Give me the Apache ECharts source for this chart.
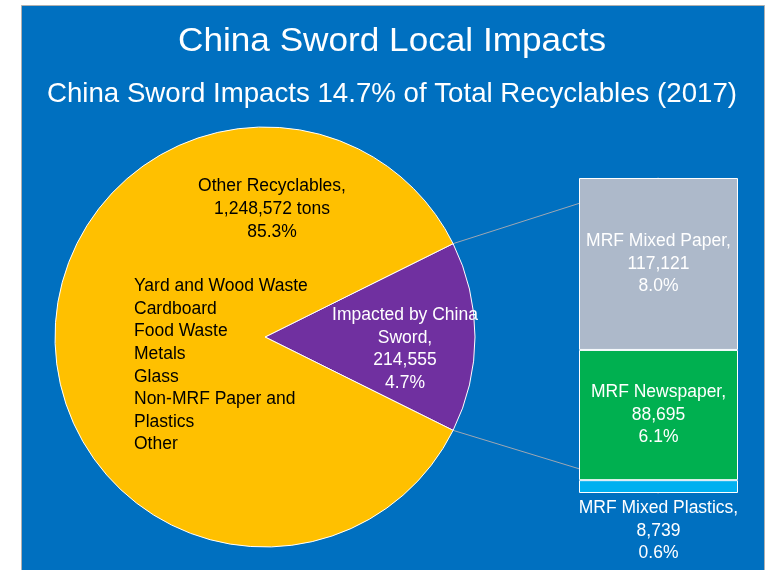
<!DOCTYPE html>
<html>
<head>
<meta charset="utf-8">
<script src="https://cdn.jsdelivr.net/npm/echarts@6/dist/echarts.min.js"></script>
<style>
  html, body { margin: 0; padding: 0; background: #fff; }
  #chart { width: 769px; height: 570px; }
</style>
</head>
<body>
<div id="chart"></div>
<script>
// pie: what part of all recyclables is hit by China Sword
const pieNames = ['Impacted by China Sword', 'Other Recyclables'];
const pieValues = [214555, 1248572];
const piePctLabels = ['4.7%', '85.3%'];
const otherItems = ['Yard and Wood Waste', 'Cardboard', 'Food Waste', 'Metals', 'Glass', 'Non-MRF Paper and', 'Plastics', 'Other'];

// stacked bar: breakdown of the impacted slice (bottom to top)
const barNames = ['MRF Mixed Plastics', 'MRF Newspaper', 'MRF Mixed Paper'];
const barValues = [8739, 88695, 117121];
const barPctLabels = ['0.6%', '6.1%', '8.0%'];
const barColors = ['#00B0F0', '#00B050', '#ADB9CA'];

const titleText = 'China Sword Local Impacts';
const subText = 'China Sword Impacts 14.7% of Total Recyclables (2017)';

const fmt = v => v.toLocaleString('en-US');
const bodyFont = "'Liberation Sans', Arial, sans-serif";
const bodySize = 17.5;

const pieCenter = [265, 337];
const pieRadius = 210;
const pieTotal = pieValues.reduce((a, b) => a + b, 0);
const halfAngle = 180 * pieValues[0] / pieTotal;   // purple slice centred on 3 o'clock
const barTotal = barValues.reduce((a, b) => a + b, 0);

// titles use a narrow-ish face in the original, squeeze text to the same width
const measure = (txt, font) => {
  const ctx = document.createElement('canvas').getContext('2d');
  ctx.font = font;
  return ctx.measureText(txt).width;
};
const titleFont = "34px 'Liberation Sans', Arial, sans-serif";
const subFont = "28px 'Liberation Sans', Arial, sans-serif";
const titleScale = 428 / measure(titleText, titleFont);
const subScale = 690 / measure(subText, subFont);

let myChart = echarts.init(document.getElementById('chart'));

const goldLabel = () => {
  const lines = [
    '{h|' + pieNames[1] + ',}',
    '{h|' + fmt(pieValues[1]) + ' tons}',
    '{h|' + piePctLabels[1] + '}',
    '{gap| }',
  ];
  otherItems.forEach(t => lines.push('{l|' + t + '}'));
  return lines.join('\n');
};

let series = [
  {
    type: 'pie',
    center: pieCenter,
    radius: pieRadius,
    startAngle: halfAngle,
    clockwise: true,
    animation: false,
    silent: true,
    itemStyle: { borderColor: '#fff', borderWidth: 1 },
    label: {
      show: true,
      position: 'inside',
      fontFamily: bodyFont,
      fontSize: bodySize,
    },
    labelLine: { show: false },
    labelLayout: (p) => {
      if (p.dataIndex === 0) {
        return { x: 405, y: 349, align: 'center', verticalAlign: 'middle' };
      }
      return { x: 134, y: 175, align: 'left', verticalAlign: 'top' };
    },
    data: [
      {
        value: pieValues[0], name: pieNames[0],
        itemStyle: { color: '#7030A0' },
        label: {
          color: '#fff',
          lineHeight: 22.5,
          align: 'center',
          formatter: p => p.name.replace(' Sword', '\nSword') + ',\n' + fmt(p.value) + '\n' + piePctLabels[0],
        },
      },
      {
        value: pieValues[1], name: pieNames[1],
        itemStyle: { color: '#FFC000' },
        label: {
          color: '#000',
          align: 'left',
          formatter: goldLabel,
          rich: {
            h: { width: 276, align: 'center', lineHeight: 23, fontSize: bodySize, fontFamily: bodyFont, color: '#000' },
            gap: { lineHeight: 31, fontSize: 10 },
            l: { width: 276, align: 'left', lineHeight: 22.6, fontSize: bodySize, fontFamily: bodyFont, color: '#000' },
          },
        },
      },
    ],
  },
];

barNames.forEach((name, i) => {
  series.push({
    type: 'bar',
    name: name,
    stack: 'sword',
    barWidth: '100%',
    animation: false,
    silent: true,
    itemStyle: { color: barColors[i], borderColor: '#fff', borderWidth: 1 },
    label: {
      show: true,
      position: i === 0 ? 'bottom' : 'inside',
      distance: 4,
      color: '#fff',
      fontFamily: bodyFont,
      fontSize: bodySize,
      lineHeight: 22.5,
      align: 'center',
      formatter: p => p.seriesName + ',\n' + fmt(p.value) + '\n' + barPctLabels[i],
    },
    data: [barValues[i]],
  });
});

const panel = {
  type: 'rect', z: -10, silent: true,
  shape: { x: 21.5, y: 5.5, width: 743, height: 570 },
  style: { fill: '#0070C0', stroke: '#B0B0B0', lineWidth: 1 },
};
const titles = [
  {
    type: 'text', x: 392, y: 42, scaleX: titleScale, silent: true,
    style: { text: titleText, fill: '#fff', font: titleFont, textAlign: 'center', textVerticalAlign: 'middle' },
  },
  {
    type: 'text', x: 392, y: 94, scaleX: subScale, silent: true,
    style: { text: subText, fill: '#fff', font: subFont, textAlign: 'center', textVerticalAlign: 'middle' },
  },
];

let option = {
  backgroundColor: '#fff',
  grid: { left: 579, top: 178, width: 159, height: 315 },
  xAxis: { type: 'category', data: ['impacted'], show: false },
  yAxis: { type: 'value', min: 0, max: barTotal, show: false },
  graphic: [panel].concat(titles),
  series: series,
};

myChart.setOption(option);

// connector lines from the purple slice edges to the bar corners
const rad = halfAngle * Math.PI / 180;
const topCorner = myChart.convertToPixel({ gridIndex: 0 }, [-0.5, barTotal]);
const botCorner = myChart.convertToPixel({ gridIndex: 0 }, [-0.5, 0]);
const upper = [pieCenter[0] + pieRadius * Math.cos(rad), pieCenter[1] - pieRadius * Math.sin(rad)];
const lower = [pieCenter[0] + pieRadius * Math.cos(rad), pieCenter[1] + pieRadius * Math.sin(rad)];
myChart.setOption({
  graphic: [panel].concat(titles, [
    {
      type: 'line', silent: true, z: 1,
      shape: { x1: upper[0], y1: upper[1], x2: topCorner[0], y2: topCorner[1] },
      style: { stroke: '#9EA7B3', lineWidth: 1 },
    },
    {
      type: 'line', silent: true, z: 1,
      shape: { x1: lower[0], y1: lower[1], x2: botCorner[0], y2: botCorner[1] },
      style: { stroke: '#9EA7B3', lineWidth: 1 },
    },
  ]),
});
</script>
</body>
</html>
